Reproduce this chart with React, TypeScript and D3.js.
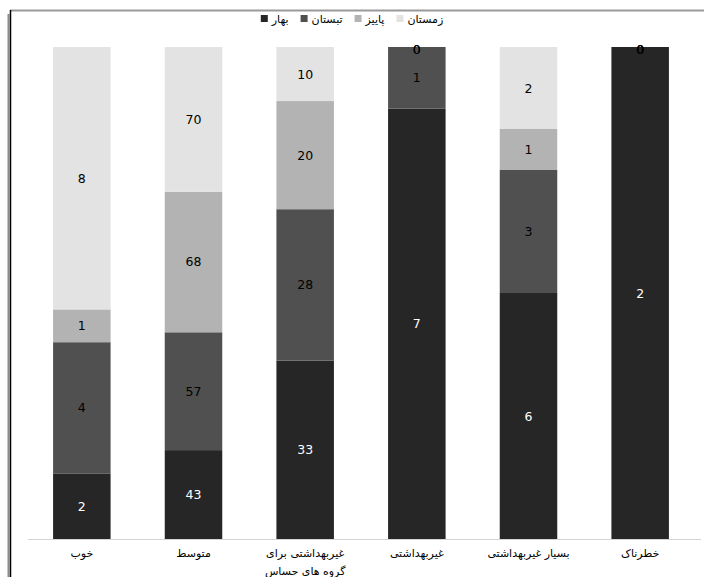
import React, { useEffect, useRef } from "react";
import * as d3 from "d3";

// AQI categories (bottom axis), each split into display lines
const categories = ["خوب", "متوسط", "غیربهداشتی برای گروه های حساس", "غیربهداشتی", "بسیار غیربهداشتی", "خطرناک"];
const categoryLines = [["خوب"], ["متوسط"], ["غیربهداشتی برای", "گروه های حساس"], ["غیربهداشتی"], ["بسیار غیربهداشتی"], ["خطرناک"]];

// Seasons (series)
const seasons = ["بهار", "تبستان", "پاییز", "زمستان"];
const seasonColors = ["#262626", "#505050", "#b3b3b3", "#e3e3e3"];
const labelColors = ["#ffffff", "#000000", "#000000", "#000000"];

// Counts per season, in category order
const spring = [2, 43, 33, 7, 6, 2];
const summer = [4, 57, 28, 1, 3, 0];
const autumn = [1, 68, 20, 0, 1, 0];
const winter = [8, 70, 10, 0, 2, 0];

const W = 704;
const H = 577;
const FONT = "'DejaVu Sans', sans-serif";

export default function App() {
  const ref = useRef<SVGSVGElement | null>(null);

  useEffect(() => {
    const svg = d3.select(ref.current);
    svg.selectAll("*").remove();

    const seriesValues = [spring, summer, autumn, winter];
    const rows = categories.map((c, i) => {
      const r: any = { category: c };
      seasons.forEach((s, k) => (r[s] = seriesValues[k][i]));
      return r;
    });

    const stack = d3.stack<any>().keys(seasons).offset(d3.stackOffsetExpand);
    const layers = stack(rows);

    const x = d3.scaleBand<string>().domain(categories).range([26, 696]).paddingInner(0.485).paddingOuter(0.2425);
    const y = d3.scaleLinear().domain([0, 1]).range([539, 47]);

    // frame lines
    svg.append("line").attr("x1", 10).attr("x2", W).attr("y1", 10.5).attr("y2", 10.5).attr("stroke", "#9a9a9a").attr("stroke-width", 2);
    svg.append("line").attr("x1", 8.5).attr("x2", 8.5).attr("y1", 14).attr("y2", H).attr("stroke", "#8c8c8c").attr("stroke-width", 2);
    svg.append("line").attr("x1", 10.5).attr("x2", 10.5).attr("y1", 10).attr("y2", H).attr("stroke", "#000").attr("stroke-width", 1.5);

    // bars
    const g = svg.append("g");
    layers.forEach((layer, k) => {
      g.selectAll(null)
        .data(layer)
        .enter()
        .append("rect")
        .attr("x", (d: any) => x(d.data.category)!)
        .attr("width", x.bandwidth())
        .attr("y", (d: any) => y(d[1]))
        .attr("height", (d: any) => Math.max(0, y(d[0]) - y(d[1])))
        .attr("fill", seasonColors[k]);
    });

    // baseline
    svg.append("line").attr("x1", 28).attr("x2", 701).attr("y1", 539.5).attr("y2", 539.5).attr("stroke", "#d4d4d4").attr("stroke-width", 1);

    // value labels
    layers.forEach((layer, k) => {
      g.selectAll(null)
        .data(layer)
        .enter()
        .append("text")
        .attr("x", (d: any) => x(d.data.category)! + x.bandwidth() / 2)
        .attr("y", (d: any) => (y(d[0]) + y(d[1])) / 2 + (d[1] - d[0] === 0 ? 2 : 0))
        .attr("dy", "0.36em")
        .attr("text-anchor", "middle")
        .attr("font-family", FONT)
        .attr("font-size", 12.5)
        .attr("fill", labelColors[k])
        .text((d: any) => String(d.data[seasons[k]]));
    });

    // category labels
    categories.forEach((c, i) => {
      const t = svg
        .append("text")
        .attr("x", x(c)! + x.bandwidth() / 2)
        .attr("y", 557)
        .attr("text-anchor", "middle")
        .attr("font-family", FONT)
        .attr("font-size", 11)
        .attr("fill", "#000");
      categoryLines[i].forEach((line, j) => {
        t.append("tspan")
          .attr("x", x(c)! + x.bandwidth() / 2)
          .attr("dy", j === 0 ? 0 : 18)
          .text(line);
      });
    });

    // legend
    const legend = svg.append("g");
    const items = seasons.map((s, k) => {
      const it = legend.append("g");
      it.append("rect").attr("x", 0).attr("y", -4).attr("width", 7).attr("height", 7).attr("fill", seasonColors[k]);
      const txt = it
        .append("text")
        .attr("x", 11)
        .attr("y", 0)
        .attr("dy", "0.35em")
        .attr("font-family", FONT)
        .attr("font-size", 11)
        .attr("fill", "#000")
        .text(s);
      const w = (txt.node() as SVGTextElement).getComputedTextLength();
      return { it, w: 11 + w };
    });
    const gap = 12;
    const total = items.reduce((a, b) => a + b.w, 0) + gap * (items.length - 1);
    let cx = 352 - total / 2;
    items.forEach(({ it, w }) => {
      it.attr("transform", `translate(${cx},19)`);
      cx += w + gap;
    });
  }, []);

  return (
    <svg
      ref={ref}
      width={W}
      height={H}
      style={{ position: "absolute", left: 0, top: 0, background: "#fff" }}
    />
  );
}
